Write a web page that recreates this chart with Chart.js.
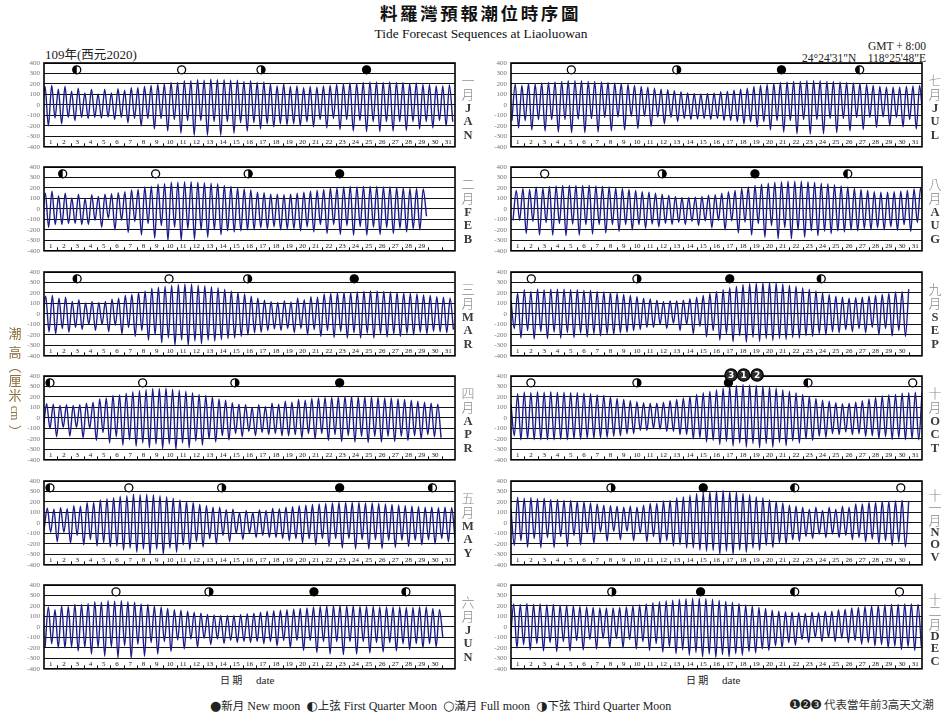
<!DOCTYPE html>
<html>
<head>
<meta charset="utf-8">
<script src="https://cdn.jsdelivr.net/npm/chart.js@4.4.1/dist/chart.umd.min.js"></script>
<style>
  body { margin: 0; background: #fff; }
  #page { position: relative; width: 941px; height: 717px; overflow: hidden;
          font-family: 'Liberation Serif', 'Noto Sans CJK TC', serif; color: #222; }
  .abs { position: absolute; white-space: nowrap; line-height: 1; }
  canvas { position: absolute; }
  .cjk { font-family: 'Noto Sans CJK TC', sans-serif; }
  .sym { font-family: 'DejaVu Sans', sans-serif; }
</style>
</head>
<body>
<div id="page">
  <div class="abs cjk" style="left:0;width:961px;top:4px;text-align:center;font-size:17.5px;font-weight:700;letter-spacing:2.6px;color:#111;">料羅灣預報潮位時序圖</div>
  <div class="abs" style="left:0;width:962px;top:27px;text-align:center;font-size:13.4px;color:#111;">Tide Forecast Sequences at Liaoluowan</div>
  <div class="abs" style="left:45px;top:48px;font-size:13px;color:#222;">109<span class="cjk" style="font-size:12.5px">年</span>(<span class="cjk" style="font-size:12.5px">西元</span>2020)</div>
  <div class="abs" style="right:15px;top:41px;font-size:11.5px;color:#222;">GMT + 8:00</div>
  <div class="abs" style="right:15px;top:53px;font-size:11.5px;color:#222;">24°24'31"N&nbsp;&nbsp;&nbsp;&nbsp;118°25'48"E</div>

  <div class="abs" style="left:220px;top:675px;font-size:11px;"><span class="cjk" style="font-size:10px">日 期</span>&nbsp;&nbsp;&nbsp;&nbsp;&nbsp;date</div>
  <div class="abs" style="left:686px;top:675px;font-size:11px;"><span class="cjk" style="font-size:10px">日 期</span>&nbsp;&nbsp;&nbsp;&nbsp;&nbsp;date</div>

  <div class="abs" style="left:210px;top:699px;font-size:12px;">
    <span class="sym" style="font-size:13px">●</span><span class="cjk" style="font-size:11.5px">新月</span> New moon&nbsp;
    <span class="sym" style="font-size:13px">◐</span><span class="cjk" style="font-size:11.5px">上弦</span> First Quarter Moon&nbsp;
    <span class="sym" style="font-size:13px">○</span><span class="cjk" style="font-size:11.5px">滿月</span> Full moon&nbsp;
    <span class="sym" style="font-size:13px">◑</span><span class="cjk" style="font-size:11.5px">下弦</span> Third Quarter Moon
  </div>
  <div class="abs" style="left:789px;top:698px;font-size:12px;">
    <span class="sym" style="font-size:13px;letter-spacing:-1px">❶❷❸</span> <span class="cjk" style="font-size:11.5px;color:#333">代表當年前3高天文潮</span>
  </div>
</div>

<script>
// ---------------------------------------------------------------
// Predicted tide, Liaoluowan 2020: successive high-water and
// low-water heights (cm), two of each per day, in time order.
// ---------------------------------------------------------------
const janHigh = [175,185, 150,175, 130,160, 115,150, 105,150, 115,155, 140,165, 165,175, 185,195, 200,215, 215,230, 230,240, 235,245, 240,240, 235,235, 225,230, 215,220, 200,180, 200,175, 180,165, 175,170, 180,185, 195,200, 210,205, 215,220, 220,215, 220,215, 215,205, 210,195, 195,180, 180,190];
const janLow  = [-200,-125, -180,-120, -150,-120, -130,-120, -125,-115, -140,-120, -170,-130, -200,-130, -230,-130, -250,-140, -270,-150, -290,-150, -290,-160, -290,-160, -270,-170, -250,-170, -230,-180, -210,-180, -190,-180, -200,-160, -210,-140, -220,-130, -235,-140, -250,-150, -255,-160, -255,-160, -250,-160, -245,-160, -230,-160, -220,-150, -200,-160];

const febHigh = [150,170, 125,150, 105,140, 100,135, 120,140, 145,155, 165,180, 185,210, 215,235, 240,255, 255,260, 260,255, 250,245, 240,225, 215,200, 190,180, 160,155, 140,140, 135,140, 150,160, 170,175, 185,200, 200,210, 215,210, 215,215, 215,210, 210,205, 200,195, 195,190];
const febLow  = [-175,-150, -150,-140, -140,-150, -150,-110, -175,-90, -200,-110, -225,-120, -250,-140, -280,-160, -300,-175, -300,-190, -290,-200, -270,-200, -245,-210, -220,-210, -200,-200, -180,-190, -170,-200, -190,-190, -210,-170, -220,-150, -235,-150, -245,-160, -250,-170, -250,-175, -245,-180, -235,-185, -220,-190, -200,-70];

const marHigh = [170,175, 150,160, 120,135, 105,120, 110,120, 140,150, 175,185, 205,220, 245,255, 265,275, 280,285, 285,275, 270,260, 250,235, 220,205, 190,170, 150,130, 120,110, 125,115, 150,135, 165,160, 190,195, 200,205, 205,210, 215,220, 220,215, 210,205, 200,195, 190,180, 175,165, 160,150];
const marLow  = [-170,-190, -140,-175, -130,-150, -100,-160, -100,-170, -110,-190, -130,-215, -160,-250, -200,-275, -230,-300, -250,-300, -260,-285, -250,-260, -245,-235, -230,-215, -200,-180, -175,-160, -145,-160, -140,-180, -140,-200, -150,-215, -160,-225, -170,-230, -180,-230, -185,-230, -190,-220, -190,-215, -185,-200, -175,-190, -165,-170, -180,-150];

const aprHigh = [135,130, 120,125, 120,125, 140,150, 180,190, 215,220, 235,250, 260,270, 280,280, 285,275, 265,255, 240,225, 215,200, 180,170, 145,130, 125,100, 125,110, 140,130, 160,150, 175,170, 185,190, 195,195, 200,205, 205,200, 200,200, 195,190, 190,180, 175,170, 160,150, 140,130];
const aprLow  = [-100,-180, -90,-175, -90,-190, -100,-215, -140,-240, -180,-260, -210,-270, -240,-285, -250,-295, -250,-300, -240,-285, -220,-260, -200,-230, -170,-210, -150,-180, -130,-170, -140,-160, -150,-170, -170,-160, -190,-150, -200,-150, -215,-160, -225,-170, -230,-175, -235,-175, -230,-175, -225,-175, -215,-170, -200,-160, -180,-190];

const mayHigh = [140,130, 145,135, 165,160, 195,195, 220,230, 240,255, 260,275, 270,275, 270,260, 250,235, 220,205, 195,175, 165,150, 150,125, 130,100, 120,100, 125,120, 140,135, 150,155, 165,170, 175,180, 185,190, 195,195, 195,195, 190,190, 185,180, 175,170, 165,160, 155,150, 150,145, 150,145];
const mayLow  = [-90,-180, -90,-195, -120,-210, -160,-220, -190,-230, -220,-260, -240,-280, -250,-300, -250,-300, -240,-280, -210,-255, -180,-230, -150,-200, -120,-180, -100,-160, -100,-140, -120,-140, -140,-150, -170,-150, -190,-150, -210,-150, -225,-150, -240,-150, -250,-160, -250,-160, -245,-165, -235,-165, -225,-165, -210,-160, -200,-150, -180,-150];

const junHigh = [190,165, 200,195, 215,215, 225,240, 235,250, 245,250, 240,235, 220,215, 200,190, 175,165, 160,150, 140,130, 120,115, 110,110, 110,120, 125,130, 140,150, 155,160, 165,170, 175,180, 190,195, 200,200, 205,200, 200,195, 195,195, 190,190, 190,190, 185,185, 190,190, 175,165];
const junLow  = [-160,-200, -200,-190, -230,-195, -260,-195, -280,-190, -295,-180, -300,-165, -280,-150, -260,-140, -235,-125, -210,-115, -195,-110, -170,-115, -160,-130, -150,-140, -150,-140, -160,-140, -180,-130, -200,-130, -225,-130, -245,-140, -260,-140, -265,-140, -260,-140, -250,-150, -240,-150, -230,-160, -215,-160, -200,-160, -190,-100];

const julHigh = [200,185, 205,200, 210,215, 220,225, 230,230, 230,225, 225,220, 215,210, 205,195, 185,175, 170,160, 150,145, 135,125, 115,110, 105,110, 115,125, 130,140, 150,160, 175,185, 195,205, 215,220, 225,225, 230,230, 230,225, 225,220, 215,210, 205,195, 185,175, 170,170, 170,175, 180,185];
const julLow  = [-220,-150, -240,-140, -250,-140, -260,-140, -265,-135, -265,-130, -260,-120, -250,-115, -240,-110, -225,-110, -205,-115, -180,-120, -160,-130, -140,-135, -130,-140, -130,-150, -150,-160, -180,-160, -210,-160, -240,-150, -260,-150, -275,-140, -280,-140, -275,-130, -265,-130, -250,-120, -235,-120, -215,-115, -200,-120, -210,-140, -230,-160];

const augHigh = [175,195, 185,210, 200,215, 220,225, 225,225, 225,225, 220,215, 210,200, 195,185, 175,165, 160,150, 140,130, 120,110, 110,115, 120,130, 135,150, 165,175, 195,210, 225,235, 245,255, 260,265, 265,265, 260,255, 245,240, 230,220, 210,195, 185,175, 165,160, 160,165, 170,175, 190,205];
const augLow  = [-110,-235, -120,-250, -130,-250, -140,-255, -145,-250, -150,-240, -150,-230, -150,-215, -150,-200, -150,-185, -145,-170, -140,-150, -130,-150, -120,-160, -115,-180, -110,-200, -115,-230, -125,-250, -140,-270, -160,-285, -180,-285, -200,-270, -210,-255, -215,-235, -210,-220, -200,-210, -190,-200, -180,-200, -170,-205, -150,-215, -130,-225];

const sepHigh = [130, 200,230, 215,235, 230,235, 235,235, 230,230, 225,225, 215,210, 205,195, 185,175, 165,150, 145,130, 120,125, 125,130, 145,160, 175,195, 215,230, 250,265, 280,290, 295,300, 300,295, 285,275, 265,250, 235,220, 200,185, 170,160, 150,155, 160,170, 175,185, 195,210, 210,235];
const sepLow  = [-140,-230, -160,-240, -170,-235, -175,-230, -180,-225, -185,-220, -190,-210, -190,-195, -180,-175, -160,-150, -130,-130, -100,-140, -90,-160, -100,-190, -120,-220, -160,-250, -190,-265, -210,-270, -225,-265, -235,-255, -235,-245, -225,-230, -210,-215, -190,-200, -170,-180, -150,-170, -140,-180, -130,-200, -140,-210, -160,-215];

const octHigh = [130, 230,245, 240,250, 245,250, 245,245, 240,240, 235,230, 220,215, 200,185, 175,165, 155,145, 140,140, 150,165, 175,190, 205,225, 240,255, 270,285, 300,310, 320,315, 310,305, 295,285, 270,255, 240,225, 205,185, 170,160, 145,135, 140,150, 165,180, 195,210, 220,225, 235,240, 245,240];
const octLow  = [-170,-210, -200,-210, -210,-210, -210,-205, -210,-200, -205,-195, -195,-190, -185,-175, -170,-150, -150,-120, -120,-100, -110,-130, -130,-160, -160,-200, -190,-230, -215,-255, -225,-270, -240,-280, -245,-285, -245,-280, -235,-265, -220,-240, -200,-215, -175,-185, -150,-160, -135,-160, -150,-175, -170,-195, -180,-205, -190,-210, -200,-210];

const novHigh = [130, 245,235, 240,230, 235,225, 225,215, 215,205, 200,190, 180,170, 165,160, 150,160, 150,170, 185,185, 210,215, 240,250, 265,280, 290,300, 305,310, 300,295, 280,270, 250,240, 220,205, 190,170, 160,150, 130,150, 120,150, 130,160, 150,180, 180,195, 195,205, 205,210, 215,210];
const novLow  = [-215,-170, -230,-150, -235,-140, -235,-130, -225,-120, -210,-100, -195,-90, -175,-80, -160,-80, -170,-100, -180,-130, -200,-170, -220,-210, -240,-240, -260,-270, -265,-300, -270,-300, -260,-280, -240,-260, -215,-235, -190,-200, -160,-175, -130,-150, -110,-140, -110,-140, -120,-160, -140,-180, -155,-200, -170,-215, -185,-230];

const decHigh = [220,215, 225,215, 220,210, 215,205, 205,200, 195,190, 185,180, 180,180, 185,190, 200,210, 220,230, 240,250, 255,265, 270,275, 275,270, 265,255, 245,235, 225,210, 200,185, 175,160, 150,145, 140,135, 130,140, 135,150, 150,165, 170,180, 185,195, 200,205, 210,215, 215,220, 220,215];
const decLow  = [-200,-170, -220,-160, -230,-150, -235,-140, -230,-130, -220,-120, -210,-110, -200,-110, -200,-120, -210,-140, -225,-160, -240,-190, -255,-220, -270,-245, -285,-260, -290,-265, -285,-255, -270,-235, -250,-210, -225,-180, -200,-150, -175,-120, -150,-100, -140,-100, -140,-110, -150,-130, -165,-150, -180,-170, -200,-185, -215,-190, -225,-190];

// time of the first high water in each month (days after 00:00 on the 1st)
const firstHighDay = [0.08, 0.10, 0.13, 0.20, 0.25, 0.33, 0.32, 0.40, 0.00, 0.00, 0.00, 0.20];
// low water just before that first high (null when the month opens on a high)
const leadLow = [-120, -150, -100, -110, -70, -200, -150, -110, null, null, null, -150];

const monthDays = [31, 29, 31, 30, 31, 30, 31, 31, 30, 31, 30, 31];

// moon phases (days after 00:00 on the 1st)
const newMoon      = [[24.33], [22.3], [23.4], [22.3], [22.3], [20.36], [20.4], [18.4], [16.5], [16.4], [14.5], [14.3]];
const firstQuarter = [[2.47], [1.41], [2.5], [0.45], [0.45, 29.3], [27.3], [26.3], [25.4], [23.4], [22.4], [21.4], [21.4]];
const fullMoon     = [[10.38], [8.42], [9.43], [7.44], [6.4], [5.43], [4.55], [2.54], [1.53], [1.5, 30.3], [29.4], [29.3]];
const thirdQuarter = [[16.37], [15.4], [15.36], [14.4], [13.4], [12.44], [12.5], [11.4], [9.5], [9.5], [7.54], [7.6]];

// three highest astronomical tides of the year (October), rank 1..3
const topTideMonth = 9;
const topTideDays = [17.55, 18.56, 16.6];

const monthZh = ['一月','二月','三月','四月','五月','六月','七月','八月','九月','十月','十一月','十二月'];
const monthEn = ['JAN','FEB','MAR','APR','MAY','JUN','JUL','AUG','SEP','OCT','NOV','DEC'];
const yTicks = [-400, -300, -200, -100, 0, 100, 200, 300, 400];

const highs = [janHigh, febHigh, marHigh, aprHigh, mayHigh, junHigh, julHigh, augHigh, sepHigh, octHigh, novHigh, decHigh];
const lows  = [janLow, febLow, marLow, aprLow, mayLow, junLow, julLow, augLow, sepLow, octLow, novLow, decLow];

// ---------------------------------------------------------------
// layout
// ---------------------------------------------------------------
const PLOT_W = 411, PLOT_H = 84;
const colLeft = [44, 511];
const rowTop = [63, 167, 272, 376, 481, 585];
const PAD_L = 32, PAD_T = 12, PAD_B = 8, PAD_R = 4;
const STEP = 0.25;   // days between successive high and low water

function tideSeries(m) {
  const hi = highs[m], lo = lows[m], t0 = firstHighDay[m];
  const pts = [];
  if (leadLow[m] !== null) pts.push({ x: t0 - STEP, y: leadLow[m] });
  const n = hi.length + lo.length;
  for (let k = 0; k < n; k++) {
    const t = t0 + k * STEP;
    if (t > monthDays[m] + 0.3) break;
    const v = (k % 2 === 0) ? hi[k / 2] : lo[(k - 1) / 2];
    if (v === undefined) break;
    pts.push({ x: t, y: v });
  }
  return pts;
}

function drawMoon(ctx, cx, cy, r, kind) {
  ctx.beginPath();
  ctx.arc(cx, cy, r, 0, Math.PI * 2);
  ctx.fillStyle = kind === 'new' ? '#000' : '#fff';
  ctx.fill();
  if (kind === 'first' || kind === 'third') {
    ctx.beginPath();
    if (kind === 'first') ctx.arc(cx, cy, r, Math.PI / 2, Math.PI * 1.5);
    else ctx.arc(cx, cy, r, -Math.PI / 2, Math.PI / 2);
    ctx.closePath();
    ctx.fillStyle = '#000';
    ctx.fill();
  }
  ctx.beginPath();
  ctx.arc(cx, cy, r, 0, Math.PI * 2);
  ctx.lineWidth = 1.3;
  ctx.strokeStyle = '#000';
  ctx.stroke();
}

const panelDecor = {
  id: 'panelDecor',
  afterDatasetsDraw(chart, args, opts) {
    const m = opts.month;
    const { ctx, chartArea: a } = chart;
    const x = chart.scales.x, y = chart.scales.y;
    ctx.save();

    // day numbers in the bottom band, ticks at each midnight
    ctx.fillStyle = '#111';
    ctx.font = '7px "Liberation Serif"';
    ctx.textAlign = 'center';
    ctx.textBaseline = 'middle';
    const yDay = y.getPixelForValue(-355);
    for (let d = 1; d <= monthDays[m]; d++) {
      ctx.fillText(String(d), x.getPixelForValue(d - 0.5), yDay);
    }
    ctx.strokeStyle = '#111';
    ctx.lineWidth = 1;
    for (let d = 1; d < 31; d++) {
      const px = Math.round(x.getPixelForValue(d)) + 0.5;
      ctx.beginPath();
      ctx.moveTo(px, a.bottom);
      ctx.lineTo(px, a.bottom - 3.5);
      ctx.stroke();
    }

    // moon phases in the top band
    const yMoon = y.getPixelForValue(335);
    newMoon[m].forEach(t => drawMoon(ctx, x.getPixelForValue(t), yMoon, 4, 'new'));
    firstQuarter[m].forEach(t => drawMoon(ctx, x.getPixelForValue(t), yMoon, 4, 'first'));
    fullMoon[m].forEach(t => drawMoon(ctx, x.getPixelForValue(t), yMoon, 4, 'full'));
    thirdQuarter[m].forEach(t => drawMoon(ctx, x.getPixelForValue(t), yMoon, 4, 'third'));

    // frame
    ctx.lineWidth = 1.6;
    ctx.strokeStyle = '#000';
    ctx.strokeRect(a.left, a.top, a.right - a.left, a.bottom - a.top);

    // ranks of the year's highest tides
    if (m === topTideMonth) {
      const yc = a.top - 1;
      const xs = topTideDays.map(t => x.getPixelForValue(t));
      ctx.beginPath();
      ctx.moveTo(Math.min(...xs), yc);
      ctx.lineTo(Math.max(...xs), yc);
      ctx.lineWidth = 1.2;
      ctx.stroke();
      xs.forEach((px, i) => {
        ctx.beginPath();
        ctx.arc(px, yc, 6.2, 0, Math.PI * 2);
        ctx.fillStyle = '#2a2a2a';
        ctx.fill();
        ctx.lineWidth = 1.2;
        ctx.strokeStyle = '#000';
        ctx.stroke();
        ctx.fillStyle = '#fff';
        ctx.font = 'bold 9px "DejaVu Sans"';
        ctx.textAlign = 'center';
        ctx.textBaseline = 'middle';
        ctx.fillText(String(i + 1), px, yc + 0.5);
      });
    }
    ctx.restore();
  }
};

const page = document.getElementById('page');

function addSideLabel(m, left, top) {
  const chars = monthZh[m].split('').map(c => ({ c, zh: true }))
    .concat(monthEn[m].split('').map(c => ({ c, zh: false })));
  const n = chars.length;
  const gap = n > 5 ? 12.5 : 13.8;
  const cx = left + PLOT_W + 13;
  const cy = top + PLOT_H / 2 + 3;
  chars.forEach((o, i) => {
    const el = document.createElement('div');
    el.className = 'abs' + (o.zh ? ' cjk' : '');
    el.textContent = o.c;
    el.style.width = '20px';
    el.style.textAlign = 'center';
    el.style.left = (cx - 10) + 'px';
    const yc = cy + (i - (n - 1) / 2) * gap;
    if (o.zh) {
      el.style.fontSize = '13px';
      el.style.fontWeight = '300';
      el.style.color = '#8a8a8a';
      el.style.top = (yc - 7) + 'px';
    } else {
      el.style.fontSize = '12.5px';
      el.style.fontWeight = '700';
      el.style.color = '#3a3a3a';
      el.style.top = (yc - 6.5) + 'px';
    }
    page.appendChild(el);
  });
}

for (let m = 0; m < 12; m++) {
  const col = m < 6 ? 0 : 1;
  const left = colLeft[col];
  const top = rowTop[m % 6];

  const cv = document.createElement('canvas');
  cv.width = PLOT_W + PAD_L + PAD_R;
  cv.height = PLOT_H + PAD_T + PAD_B;
  cv.style.left = (left - PAD_L) + 'px';
  cv.style.top = (top - PAD_T) + 'px';
  page.appendChild(cv);

  new Chart(cv, {
    type: 'line',
    data: {
      datasets: [{
        data: tideSeries(m),
        borderColor: '#1c1c88',
        borderWidth: 1.4,
        pointRadius: 0,
        cubicInterpolationMode: 'monotone',
        fill: false
      }]
    },
    options: {
      responsive: false,
      animation: false,
      devicePixelRatio: 1,
      events: [],
      layout: { padding: { top: PAD_T, bottom: PAD_B, left: 0, right: PAD_R } },
      plugins: { legend: { display: false }, tooltip: { enabled: false }, panelDecor: { month: m } },
      scales: {
        x: { type: 'linear', min: 0, max: 31, display: false },
        y: {
          type: 'linear', min: -400, max: 400,
          afterFit: s => { s.width = PAD_L; },
          afterBuildTicks: s => { s.ticks = yTicks.map(v => ({ value: v })); },
          ticks: { autoSkip: false, font: { family: 'Liberation Serif', size: 7 }, color: '#777', padding: 4 },
          grid: { color: '#111', lineWidth: 1, drawTicks: false },
          border: { display: false }
        }
      }
    },
    plugins: [panelDecor]
  });

  addSideLabel(m, left, top);
}

// vertical axis title
(function () {
  const parts = [
    { t: '潮', y: 333 }, { t: '高', y: 352 }, { t: '︵', y: 366 },
    { t: '厘', y: 380 }, { t: '米', y: 395 }, { t: 'cm', y: 414, rot: true }, { t: '︶', y: 431 }
  ];
  parts.forEach(p => {
    const el = document.createElement('div');
    el.className = 'abs' + (p.rot ? '' : ' cjk');
    el.textContent = p.t;
    el.style.color = '#8a6a3a';
    el.style.width = '20px';
    el.style.textAlign = 'center';
    el.style.left = '5px';
    el.style.fontSize = p.rot ? '12px' : '13px';
    el.style.top = (p.y - 7) + 'px';
    if (p.rot) el.style.transform = 'rotate(90deg)';
    page.appendChild(el);
  });
})();
</script>
</body>
</html>
